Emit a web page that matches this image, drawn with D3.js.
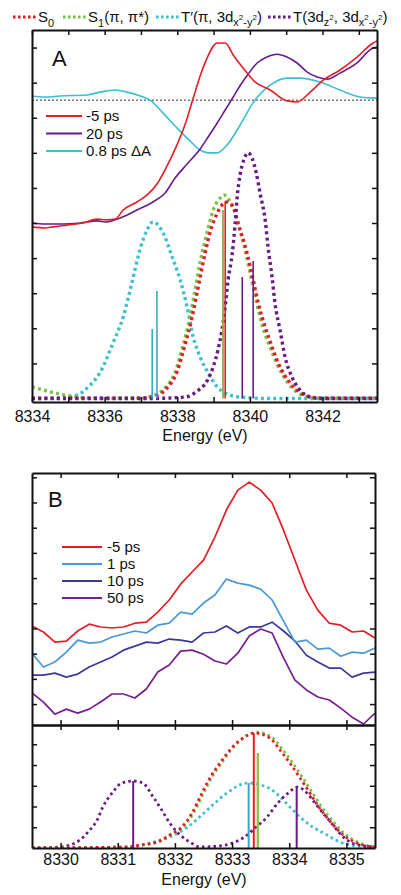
<!DOCTYPE html>
<html><head><meta charset="utf-8">
<script src="https://cdn.jsdelivr.net/npm/d3@7"></script>
<style>
body{margin:0;background:#fff}
svg{display:block}
text{font-family:"Liberation Sans",Arial,Helvetica,sans-serif;fill:#111}
</style>
</head><body>
<svg id="c" width="401" height="895"></svg>
<script>
// ---------------- DATA ----------------
// Panel A: experimental XANES (energy eV, intensity)
const aRed5ps = [[8334.00,4.89],[8334.36,4.86],[8334.58,4.89],[8334.96,4.94],[8335.40,5.00],[8335.79,5.11],[8336.07,5.09],[8336.29,5.11],[8336.51,5.37],[8336.89,5.60],[8337.17,5.80],[8337.44,6.11],[8337.66,6.51],[8337.99,7.22],[8338.21,7.79],[8338.44,8.56],[8338.63,9.19],[8338.82,9.70],[8339.10,10.13],[8339.32,10.13],[8339.54,9.79],[8339.81,9.42],[8340.14,9.02],[8340.56,8.79],[8341.02,8.48],[8341.30,8.45],[8341.66,8.73],[8342.02,9.07],[8342.48,9.36],[8342.95,9.73],[8343.39,10.13],[8343.50,10.19]];
const aPurple20ps = [[8334.00,5.00],[8334.36,4.97],[8334.77,4.97],[8335.32,5.00],[8335.79,5.06],[8336.07,5.03],[8336.29,5.09],[8336.56,5.20],[8336.89,5.37],[8337.33,5.60],[8337.66,5.85],[8337.94,6.28],[8338.27,6.68],[8338.63,7.11],[8338.85,7.45],[8339.10,7.85],[8339.32,8.22],[8339.54,8.59],[8339.76,8.96],[8339.95,9.24],[8340.20,9.56],[8340.47,9.73],[8340.75,9.81],[8341.02,9.73],[8341.30,9.56],[8341.58,9.30],[8341.85,9.16],[8342.13,9.10],[8342.48,9.27],[8342.95,9.56],[8343.39,9.99],[8343.50,10.01]];
const aCyanDelta = [[8334.00,8.62],[8334.36,8.59],[8334.77,8.62],[8335.52,8.65],[8335.87,8.73],[8336.29,8.79],[8336.62,8.73],[8336.98,8.62],[8337.25,8.50],[8337.61,8.13],[8337.99,7.71],[8338.35,7.34],[8338.63,7.08],[8338.85,7.00],[8339.10,7.00],[8339.37,7.22],[8339.73,7.79],[8340.09,8.43],[8340.56,8.93],[8341.02,9.13],[8341.38,9.13],[8341.93,9.02],[8342.48,8.79],[8343.04,8.59],[8343.39,8.56],[8343.50,8.56]];
const aZeroLine = 8.5;
// Panel A: calculated spectra (dotted)
const aCalcS0 = [[8334.00,0.01],[8336.98,0.01],[8337.39,0.07],[8337.72,0.30],[8337.99,0.75],[8338.21,1.52],[8338.41,2.32],[8338.55,3.03],[8338.71,3.86],[8338.90,4.72],[8339.10,5.28],[8339.23,5.51],[8339.37,5.60],[8339.54,5.46],[8339.67,5.00],[8339.92,4.15],[8340.09,3.38],[8340.23,2.72],[8340.42,2.04],[8340.61,1.47],[8340.78,1.01],[8341.11,0.44],[8341.58,0.07],[8341.93,0.01],[8343.50,0.01]];
const aCalcS1 = [[8334.00,0.33],[8334.50,0.19],[8335.05,0.07],[8335.60,0.01],[8336.98,0.01],[8337.39,0.10],[8337.66,0.30],[8337.94,0.75],[8338.16,1.52],[8338.35,2.32],[8338.49,3.09],[8338.63,3.89],[8338.82,4.72],[8338.99,5.37],[8339.18,5.71],[8339.29,5.80],[8339.43,5.66],[8339.59,5.31],[8339.73,4.80],[8339.90,4.09],[8340.06,3.32],[8340.20,2.67],[8340.36,2.01],[8340.56,1.45],[8340.75,0.98],[8341.05,0.44],[8341.52,0.07],[8341.93,0.01],[8343.50,0.01]];
const aCalcTp = [[8334.00,0.00],[8334.77,0.01],[8335.18,0.07],[8335.60,0.38],[8335.88,0.75],[8336.23,1.58],[8336.51,2.32],[8336.75,3.29],[8336.97,4.23],[8337.17,4.80],[8337.33,5.03],[8337.61,4.72],[8337.86,4.03],[8338.08,3.38],[8338.27,2.61],[8338.44,1.75],[8338.63,1.18],[8338.85,0.73],[8339.10,0.33],[8339.37,0.13],[8339.73,0.04],[8340.50,0.00],[8343.50,0.00]];
const aCalcT = [[8334.00,0.00],[8337.25,0.00],[8338.21,0.04],[8338.55,0.21],[8338.82,0.50],[8338.99,0.90],[8339.12,1.38],[8339.23,1.95],[8339.32,2.61],[8339.40,3.38],[8339.51,4.09],[8339.59,4.94],[8339.65,5.74],[8339.73,6.37],[8339.84,6.82],[8339.95,7.00],[8340.06,6.85],[8340.17,6.45],[8340.28,5.85],[8340.42,5.09],[8340.50,4.32],[8340.61,3.46],[8340.69,2.72],[8340.83,1.95],[8340.97,1.18],[8341.16,0.61],[8341.38,0.24],[8341.66,0.04],[8341.93,0.00],[8343.50,0.00]];
// Panel A: stick transitions
const aSticksTp = [[8337.31,1.98],[8337.44,3.06]];
const aSticksS1 = [[8339.26,5.37]];
const aSticksS0 = [[8339.32,5.63]];
const aSticksT = [[8339.79,3.46],[8340.09,3.92]];

// Panel B upper: pre-edge spectra on a common energy grid
const bEnergy = [8329.5,8329.7,8329.9,8330.1,8330.3,8330.5,8330.7,8330.9,8331.1,8331.3,8331.5,8331.7,8331.9,8332.1,8332.3,8332.5,8332.7,8332.9,8333.1,8333.3,8333.5,8333.7,8333.9,8334.1,8334.3,8334.5,8334.7,8334.9,8335.1,8335.3,8335.5];
const bRed5ps  = [3.10,2.86,2.46,2.50,2.90,3.17,3.06,3.02,3.06,3.21,3.25,3.65,4.13,4.76,5.24,5.71,6.63,7.70,8.49,8.81,8.49,7.98,6.90,5.71,4.52,3.73,3.21,3.13,2.86,2.90,2.62];
const bBlue1ps = [2.02,1.47,1.67,2.06,2.54,2.42,2.46,2.66,2.78,2.90,2.82,3.13,3.21,3.65,3.57,4.01,4.33,4.96,4.80,4.72,4.56,4.13,3.29,2.46,2.54,2.18,2.22,1.90,2.06,2.02,2.22];
const bNavy10ps = [1.15,1.15,1.23,1.07,1.19,1.47,1.67,1.87,2.14,2.30,2.46,2.42,2.58,2.54,2.46,2.82,2.86,3.10,2.82,3.06,3.06,3.25,2.90,2.50,1.94,1.67,1.43,1.43,1.07,1.23,1.27];
const bPurple50ps = [0.44,0.08,-0.40,-0.20,-0.36,-0.20,0.08,0.40,0.40,0.24,0.60,1.27,1.55,2.10,2.14,1.98,1.71,1.59,2.02,2.70,2.98,2.82,1.83,0.95,0.56,0.28,0.16,-0.16,-0.52,-0.79,-0.36];
const bLabels = ["-5 ps","1 ps","10 ps","50 ps"];

// Panel B lower: calculated pre-edge (dotted) and sticks
const bCalcS0 = [[8329.5,0],[8331.16,0.05],[8331.39,0.14],[8331.69,0.29],[8331.91,0.63],[8332.12,1.01],[8332.30,1.69],[8332.44,2.46],[8332.61,3.37],[8332.79,4.10],[8332.96,4.72],[8333.14,5.20],[8333.40,5.54],[8333.66,5.30],[8333.84,4.72],[8334.01,4.10],[8334.19,3.37],[8334.36,2.65],[8334.53,1.93],[8334.74,1.20],[8334.94,0.63],[8335.18,0.24],[8335.46,0.05],[8335.5,0.04]];
const bCalcS1 = [[8329.5,0],[8331.16,0.05],[8331.42,0.14],[8331.72,0.30],[8331.94,0.64],[8332.15,1.03],[8332.33,1.70],[8332.47,2.47],[8332.64,3.38],[8332.82,4.12],[8332.99,4.75],[8333.17,5.24],[8333.43,5.58],[8333.70,5.33],[8333.88,4.76],[8334.05,4.14],[8334.23,3.41],[8334.40,2.69],[8334.57,1.97],[8334.78,1.24],[8334.98,0.66],[8335.22,0.26],[8335.46,0.06],[8335.5,0.05]];
const bCalcTp = [[8329.5,0],[8331.0,0.02],[8331.27,0.05],[8331.56,0.24],[8331.86,0.48],[8332.09,0.77],[8332.31,1.20],[8332.47,1.59],[8332.66,2.07],[8332.91,2.65],[8333.26,3.13],[8333.61,2.94],[8333.84,2.46],[8334.01,1.98],[8334.19,1.49],[8334.41,1.01],[8334.66,0.63],[8334.88,0.29],[8335.18,0.10],[8335.46,0.05],[8335.5,0.04]];
const bCalcT = [[8329.5,0],[8329.99,0.05],[8330.16,0.14],[8330.34,0.39],[8330.48,0.77],[8330.64,1.35],[8330.74,1.98],[8330.90,2.65],[8331.07,3.13],[8331.27,3.23],[8331.44,3.13],[8331.62,2.46],[8331.77,1.83],[8331.91,1.20],[8332.09,0.63],[8332.26,0.29],[8332.44,0.05],[8332.79,0.10],[8333.01,0.24],[8333.19,0.48],[8333.40,0.96],[8333.61,1.49],[8333.80,2.17],[8333.98,2.65],[8334.15,2.94],[8334.31,2.65],[8334.45,2.17],[8334.59,1.69],[8334.74,1.20],[8334.88,0.72],[8335.06,0.29],[8335.23,0.14],[8335.46,0.05],[8335.5,0.04]];
const bSticksT = [[8331.27,3.23],[8334.13,2.94]];
const bSticksS0 = [[8333.38,5.54]];
const bSticksS1 = [[8333.45,4.58]];
const bSticksTp = [[8333.29,3.13]];

// Ticks
const aXTicks = [8334,8335,8336,8337,8338,8339,8340,8341,8342,8343];
const aXLabels = ["8334","","8336","","8338","","8340","","8342",""];
const aYTicks = [1,2,3,4,5,6,7,8,9,10];
const bXTicks = [8330,8331,8332,8333,8334,8335];
const bXLabels = ["8330","8331","8332","8333","8334","8335"];
const bYTicksUpper = [0,1,2,3,4,5,6,7,8,9];
const bYTicksLower = [1,2,3,4,5];

// ---------------- STYLE ----------------
const C = {
  red:"#e31e24", purple:"#6a1b8a", cyan:"#3cbfd0", green:"#7cc143",
  cyanStick:"#3aa8c4", greenStick:"#8fae3a",
  blue1:"#4a98d6", navy10:"#3b399c", purple50:"#75208c"
};

const svg = d3.select("#c");

// ---------------- SCALES ----------------
const xA = d3.scaleLinear().domain([8334,8343.5]).range([32,377]);
const yA = d3.scaleLinear().domain([-0.1,10.5]).range([402,30]);
const xB = d3.scaleLinear().domain([8329.5,8335.5]).range([32,375]);
const yB1 = d3.scaleLinear().domain([-0.83,9.17]).range([725,473]);
const yB2 = d3.scaleLinear().domain([0,5.93]).range([848,725]);

// clip paths
const defs = svg.append("defs");
function clip(id,x0,y0,x1,y1){
  defs.append("clipPath").attr("id",id).append("rect")
    .attr("x",x0).attr("y",y0).attr("width",x1-x0).attr("height",y1-y0);
}
clip("clipA",32,30,377,402);
clip("clipB1",32,473,375,725);
clip("clipB2",32,725,375,848);

const gA = svg.append("g").attr("clip-path","url(#clipA)");
const gB1 = svg.append("g").attr("clip-path","url(#clipB1)");
const gB2 = svg.append("g").attr("clip-path","url(#clipB2)");

function smoothLine(x,y){ return d3.line().x(d=>x(d[0])).y(d=>y(d[1])).curve(d3.curveMonotoneX); }
function dotted(g,data,x,y,color,w,dash){
  g.append("path").datum(data).attr("d",smoothLine(x,y)).attr("fill","none")
   .attr("stroke",color).attr("stroke-width",w).attr("stroke-dasharray",dash);
}
function solid(g,data,x,y,color,w,curve){
  g.append("path").datum(data)
   .attr("d",d3.line().x(d=>x(d[0])).y(d=>y(d[1])).curve(curve||d3.curveMonotoneX))
   .attr("fill","none").attr("stroke",color).attr("stroke-width",w).attr("stroke-linejoin","round");
}
function sticks(g,data,x,y,color,w){
  g.selectAll(null).data(data).enter().append("line")
   .attr("x1",d=>x(d[0])).attr("x2",d=>x(d[0]))
   .attr("y1",y(0)).attr("y2",d=>y(d[1]))
   .attr("stroke",color).attr("stroke-width",w);
}

// ---------------- PANEL A ----------------
gA.append("line").attr("x1",32).attr("x2",377).attr("y1",yA(aZeroLine)).attr("y2",yA(aZeroLine))
  .attr("stroke","#777").attr("stroke-width",1.6).attr("stroke-dasharray","2,2");
dotted(gA,aCalcTp,xA,yA,C.cyan,3.4,"3,3.2");
dotted(gA,aCalcS1,xA,yA,C.green,3.4,"3,3.2");
dotted(gA,aCalcS0,xA,yA,C.red,3.4,"3,3.2");
dotted(gA,aCalcT,xA,yA,C.purple,3.4,"3,3.2");
sticks(gA,aSticksTp,xA,yA,C.cyanStick,1.6);
sticks(gA,aSticksS1,xA,yA,C.greenStick,1.8);
sticks(gA,aSticksS0,xA,yA,C.red,1.6);
sticks(gA,aSticksT,xA,yA,C.purple,1.6);
solid(gA,aCyanDelta,xA,yA,C.cyan,1.6);
solid(gA,aPurple20ps,xA,yA,C.purple,1.6);
solid(gA,aRed5ps,xA,yA,C.red,1.6);

// ---------------- PANEL B ----------------
const bSeries = [bRed5ps,bBlue1ps,bNavy10ps,bPurple50ps];
const bColors = [C.red,C.blue1,C.navy10,C.purple50];
[3,2,1,0].forEach(i=>{
  solid(gB1,bEnergy.map((e,j)=>[e,bSeries[i][j]]),xB,yB1,bColors[i],1.7,d3.curveLinear);
});
dotted(gB2,bCalcTp,xB,yB2,C.cyan,2.8,"2.6,3.2");
dotted(gB2,bCalcT,xB,yB2,C.purple,2.8,"2.6,3.2");
dotted(gB2,bCalcS1,xB,yB2,C.green,2.8,"2.6,3.2");
dotted(gB2,bCalcS0,xB,yB2,C.red,2.8,"2.6,3.2");
sticks(gB2,bSticksTp,xB,yB2,C.cyanStick,2);
sticks(gB2,bSticksS0,xB,yB2,C.red,2);
sticks(gB2,bSticksS1,xB,yB2,"#8cc63f",2.4);
sticks(gB2,bSticksT,xB,yB2,C.purple,2);

// ---------------- AXES ----------------
function styleAxis(g,showText){
  g.select(".domain").attr("stroke","#111").attr("stroke-width",2);
  g.selectAll(".tick line").attr("stroke","#111").attr("stroke-width",1.5);
  if(!showText) g.selectAll(".tick text").remove();
  else g.selectAll(".tick text").attr("fill","#111")
        .style("font-family","'Liberation Sans',Arial,sans-serif").style("font-size","16px");
}
// A
let ax;
ax = svg.append("g").attr("transform","translate(0,402)")
  .call(d3.axisBottom(xA).tickValues(aXTicks).tickSize(-5).tickSizeOuter(0)
        .tickFormat((d,i)=>aXLabels[i]));
styleAxis(ax,true);
ax.selectAll(".tick text").attr("y",8).attr("dy","0.72em");
ax = svg.append("g").attr("transform","translate(0,30)")
  .call(d3.axisTop(xA).tickValues(aXTicks).tickSize(-5).tickSizeOuter(0));
styleAxis(ax,false);
ax = svg.append("g").attr("transform","translate(32,0)")
  .call(d3.axisLeft(yA).tickValues(aYTicks).tickSize(-5).tickSizeOuter(0));
styleAxis(ax,false);
ax = svg.append("g").attr("transform","translate(377,0)")
  .call(d3.axisRight(yA).tickValues(aYTicks).tickSize(-5).tickSizeOuter(0));
styleAxis(ax,false);
svg.append("text").attr("x",205).attr("y",441).attr("text-anchor","middle")
  .style("font-size","16px").text("Energy (eV)");

// B
ax = svg.append("g").attr("transform","translate(0,473)")
  .call(d3.axisTop(xB).tickValues(bXTicks).tickSize(-5).tickSizeOuter(0));
styleAxis(ax,false);
ax = svg.append("g").attr("transform","translate(0,725)")
  .call(d3.axisBottom(xB).tickValues(bXTicks).tickSize(5).tickSizeOuter(0));
styleAxis(ax,false);
ax = svg.append("g").attr("transform","translate(0,725)")
  .call(d3.axisTop(xB).tickValues(bXTicks).tickSize(5).tickSizeOuter(0));
styleAxis(ax,false);
ax = svg.append("g").attr("transform","translate(0,848)")
  .call(d3.axisBottom(xB).tickValues(bXTicks).tickSize(-5).tickSizeOuter(0)
        .tickFormat((d,i)=>bXLabels[i]));
styleAxis(ax,true);
ax.selectAll(".tick text").attr("y",5).attr("dy","0.72em");
[[yB1,bYTicksUpper],[yB2,bYTicksLower]].forEach(([ys,tv])=>{
  let a = svg.append("g").attr("transform","translate(32,0)")
    .call(d3.axisLeft(ys).tickValues(tv).tickSize(-5).tickSizeOuter(0));
  styleAxis(a,false);
  a = svg.append("g").attr("transform","translate(375,0)")
    .call(d3.axisRight(ys).tickValues(tv).tickSize(-5).tickSizeOuter(0));
  styleAxis(a,false);
});
svg.append("text").attr("x",204).attr("y",885).attr("text-anchor","middle")
  .style("font-size","16px").text("Energy (eV)");

// panel letters
svg.append("text").attr("x",52).attr("y",66).style("font-size","22px").text("A");
svg.append("text").attr("x",48).attr("y",507).style("font-size","22px").text("B");

// ---------------- LEGENDS ----------------
const aLegend = [["-5 ps",C.red],["20 ps",C.purple],["0.8 ps \u0394A",C.cyan]];
aLegend.forEach((d,i)=>{
  const y = 116 + i*17.5;
  svg.append("line").attr("x1",46).attr("x2",82).attr("y1",y).attr("y2",y)
    .attr("stroke",d[1]).attr("stroke-width",2);
  svg.append("text").attr("x",86).attr("y",y+5).style("font-size","15px").text(d[0]);
});
bLabels.forEach((lab,i)=>{
  const y = 547 + i*17;
  svg.append("line").attr("x1",62).attr("x2",102).attr("y1",y).attr("y2",y)
    .attr("stroke",bColors[i]).attr("stroke-width",2);
  svg.append("text").attr("x",107).attr("y",y+5).style("font-size","15px").text(lab);
});

// top legend with rich text
function rich(x,y,parts){
  const t = svg.append("text").attr("x",x).attr("y",y);
  let prev = 0;
  parts.forEach(([s,size,shift])=>{
    t.append("tspan").attr("dy",shift-prev).style("font-size",size+"px").text(s);
    prev = shift;
  });
  return t;
}
const topLegend = [
  {x0:13, color:C.red,   parts:[["S",15,0],["0",11,5]]},
  {x0:63, color:C.green, parts:[["S",15,0],["1",11,5],["(\u03C0, \u03C0*)",15,0]]},
  {x0:156,color:C.cyan,  parts:[["T\u2032(\u03C0, 3d",15,0],["x",11,4],["2",8,-2],["-y",11,4],["2",8,-2],[")",15,0]]},
  {x0:268,color:C.purple,parts:[["T(3d",15,0],["z",11,4],["2",8,-2],[", 3d",15,0],["x",11,4],["2",8,-2],["-y",11,4],["2",8,-2],[")",15,0]]}
];
topLegend.forEach(d=>{
  svg.append("line").attr("x1",d.x0).attr("x2",d.x0+23).attr("y1",17).attr("y2",17)
    .attr("stroke",d.color).attr("stroke-width",3.2).attr("stroke-dasharray","2.6,2.4");
  rich(d.x0+25,22,d.parts);
});
</script>
</body></html>
